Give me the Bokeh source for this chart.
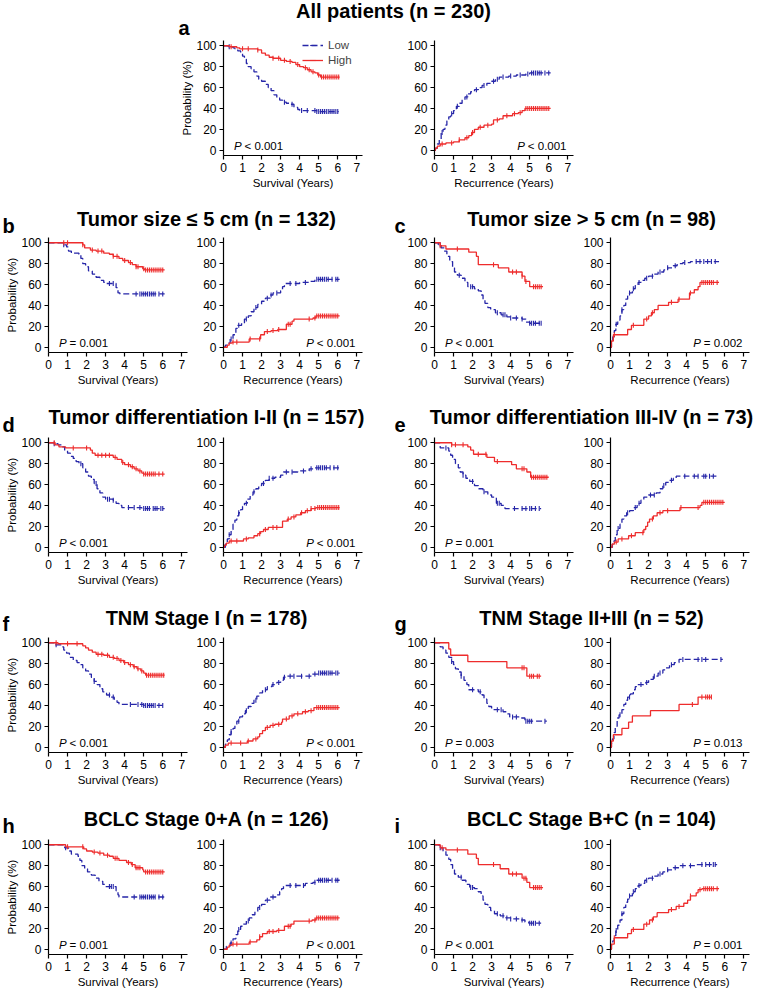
import numpy as np
from bokeh.plotting import figure
from bokeh.models import Range1d, FixedTicker, Label, Legend, LegendItem, Spacer
from bokeh.layouts import row, column
from bokeh.embed import file_html
from bokeh.resources import INLINE

# ---------------- data (time in years, probability in %) ----------------
x_ticks = [0, 1, 2, 3, 4, 5, 6, 7]
y_ticks = [0, 20, 40, 60, 80, 100]
letters = ["a", "b", "c", "d", "e", "f", "g", "h", "i"]
titles = ["All patients (n = 230)", "Tumor size \u2264 5 cm (n = 132)", "Tumor size > 5 cm (n = 98)",
          "Tumor differentiation I-II (n = 157)", "Tumor differentiation III-IV (n = 73)",
          "TNM Stage I (n = 178)", "TNM Stage II+III (n = 52)",
          "BCLC Stage 0+A (n = 126)", "BCLC Stage B+C (n = 104)"]
p_surv = ["< 0.001", "= 0.001", "< 0.001", "< 0.001", "= 0.001", "< 0.001", "= 0.003", "= 0.001", "< 0.001"]
p_rec = ["< 0.001", "< 0.001", "= 0.002", "< 0.001", None, "< 0.001", "= 0.013", "< 0.001", "= 0.001"]

# a
a_surv_low = [(0,100),(0.25,99),(0.5,98),(0.6,97),(0.75,95),(0.9,93),(1.0,90),(1.1,87),(1.2,83),(1.3,80),(1.45,78),(1.6,75),(1.75,71),(1.85,68),(2.0,66),(2.2,63),(2.35,60),(2.5,57),(2.65,53),(2.8,50),(2.95,48),(3.1,46),(3.3,45),(3.5,44),(3.7,41),(3.9,39),(4.0,38),(4.9,37),(6.05,37)]
a_surv_low_c = [0.3,3.2,3.6,4.1,4.4,4.8,4.9,5.0,5.1,5.2,5.3,5.4,5.5,5.6,5.7,5.8,5.9,6.0]
a_surv_high = [(0,100),(0.3,99),(0.7,98),(0.85,97),(1.8,96),(2.0,93),(2.2,91),(2.4,89),(2.6,88),(3.0,86),(3.3,85),(3.6,84),(3.8,82),(4.0,80),(4.2,79),(4.4,77),(4.6,75),(4.8,74),(4.95,72),(5.1,70),(6.1,70)]
a_surv_high_c = [0.4,1.0,1.3,1.8,2.6,2.9,3.2,3.5,3.9,4.3,4.5,4.7,5.0,5.15,5.25,5.35,5.45,5.55,5.65,5.75,5.85,5.95,6.05]
a_rec_low = [(0,0),(0.05,2),(0.15,6),(0.25,10),(0.35,17),(0.45,20),(0.55,24),(0.65,28),(0.75,32),(0.85,35),(1.0,38),(1.15,42),(1.3,45),(1.45,48),(1.6,51),(1.75,54),(1.9,56),(2.1,58),(2.3,60),(2.5,62),(2.75,64),(3.0,66),(3.2,68),(3.4,70),(3.9,71),(4.3,72),(4.8,73),(5.0,74),(6.1,74)]
a_rec_low_c = [0.4,0.9,1.2,1.7,2.2,2.6,3.1,3.3,3.6,4.0,4.5,4.9,5.1,5.2,5.3,5.4,5.5,5.6,5.8,6.0]
a_rec_high = [(0,0),(0.05,2),(0.15,4),(0.3,6),(0.6,7),(1.0,8),(1.3,10),(1.6,12),(1.8,14),(1.95,17),(2.1,20),(2.3,22),(2.6,24),(3.0,25),(3.1,29),(3.4,30),(3.6,33),(4.1,35),(4.4,36),(4.6,38),(4.75,40),(6.1,40)]
a_rec_high_c = [0.4,0.9,1.3,1.7,2.0,2.4,2.8,3.3,3.8,4.2,4.5,4.8,4.9,5.0,5.1,5.2,5.3,5.4,5.5,5.6,5.7,5.8,5.9,6.0]
# b
b_surv_low = [(0,100),(0.75,98),(0.95,96),(1.05,92),(1.2,90),(1.6,89),(1.7,85),(1.8,80),(1.95,77),(2.1,73),(2.3,70),(2.5,67),(2.7,64),(2.9,62),(3.05,61),(3.55,57),(3.65,52),(3.75,51),(6.1,51)]
b_surv_low_c = [0.8,3.2,3.4,4.6,4.8,4.9,5.0,5.1,5.2,5.3,5.4,5.5,5.6,5.8,6.0]
b_surv_high = [(0,100),(1.8,98),(1.9,95),(2.2,93),(2.5,92),(2.9,90),(3.2,89),(3.4,87),(3.7,85),(3.9,83),(4.2,81),(4.4,79),(4.6,77),(4.95,75),(5.05,74),(6.1,74)]
b_surv_high_c = [0.8,1.0,1.8,2.3,2.6,2.8,3.4,3.6,4.0,4.3,4.6,4.7,5.0,5.1,5.2,5.3,5.4,5.5,5.6,5.7,5.8,5.9,6.0]
b_rec_low = [(0,0),(0.1,2),(0.2,4),(0.35,8),(0.5,12),(0.65,18),(0.75,21),(0.95,23),(1.1,27),(1.3,30),(1.45,34),(1.6,38),(1.8,41),(2.0,44),(2.2,47),(2.45,50),(2.6,52),(3.0,54),(3.1,58),(3.2,61),(4.0,62),(4.5,63),(4.8,65),(6.1,65)]
b_rec_low_c = [0.4,0.8,1.2,1.7,2.3,2.5,2.8,3.5,3.8,4.3,4.9,5.0,5.1,5.2,5.3,5.4,5.5,5.7,5.9,6.0]
b_rec_high = [(0,0),(0.2,2),(0.3,4),(0.45,5),(1.35,8),(1.95,12),(2.15,15),(2.5,16),(2.85,17),(3.3,22),(3.6,25),(3.7,27),(4.7,28),(4.85,30),(6.1,30)]
b_rec_high_c = [0.5,0.7,1.4,1.9,2.3,2.6,2.9,3.4,3.5,4.5,4.8,4.9,5.0,5.1,5.2,5.3,5.4,5.5,5.6,5.7,5.8,5.9,6.0]
# c
c_surv_low = [(0,100),(0.2,98),(0.35,95),(0.5,92),(0.65,87),(0.8,82),(0.95,76),(1.05,72),(1.2,69),(1.4,66),(1.6,62),(1.75,58),(2.1,56),(2.3,54),(2.45,50),(2.55,46),(2.65,42),(2.8,38),(2.95,36),(3.2,33),(3.5,31),(3.8,29),(4.0,28),(4.6,27),(4.8,24),(5.0,23),(5.7,23)]
c_surv_low_c = [0.3,1.3,1.9,2.0,3.3,3.6,3.7,4.0,4.3,4.6,5.0,5.1,5.2,5.3,5.5,5.6]
c_surv_high = [(0,100),(0.3,97),(0.6,94),(1.8,91),(2.2,87),(2.3,79),(3.35,76),(3.9,72),(4.6,68),(4.75,63),(5.0,58),(5.7,58)]
c_surv_high_c = [0.3,1.2,3.1,4.1,4.3,4.6,4.8,5.2,5.3,5.4,5.5,5.6]
c_rec_low = [(0,0),(0.05,5),(0.12,10),(0.2,16),(0.28,22),(0.38,26),(0.5,30),(0.6,36),(0.7,40),(0.8,46),(0.9,49),(1.0,52),(1.15,56),(1.3,59),(1.45,62),(1.6,64),(1.8,66),(2.0,68),(2.3,70),(2.5,72),(2.8,74),(3.0,76),(3.3,78),(3.5,80),(3.8,81),(4.2,82),(5.7,82)]
c_rec_low_c = [0.3,0.6,1.0,1.2,1.5,1.9,2.2,2.6,3.0,3.4,3.9,4.5,4.7,4.9,5.1,5.3,5.5]
c_rec_high = [(0,0),(0.05,6),(0.15,12),(0.9,17),(1.1,21),(1.75,27),(2.0,30),(2.15,33),(2.3,36),(2.5,40),(3.05,43),(3.55,46),(4.15,52),(4.4,55),(4.6,58),(4.7,62),(5.7,62)]
c_rec_high_c = [0.2,1.2,1.9,2.2,3.2,3.6,4.2,4.8,4.9,5.0,5.1,5.2,5.3,5.4,5.6]
# d
d_surv_low = [(0,100),(0.3,99),(0.5,98),(0.7,96),(0.85,93),(1.0,90),(1.15,87),(1.3,85),(1.45,82),(1.6,80),(1.8,76),(1.95,72),(2.1,68),(2.25,65),(2.4,61),(2.55,56),(2.7,52),(2.85,48),(3.0,46),(3.4,45),(3.55,42),(3.7,40),(3.85,38),(4.9,37),(6.1,37)]
d_surv_low_c = [0.3,1.7,2.5,3.1,3.2,3.4,4.2,4.5,4.8,5.0,5.1,5.2,5.3,5.5,5.6,5.7,5.9,6.0]
d_surv_high = [(0,100),(0.35,98),(0.55,96),(0.9,95),(2.2,93),(2.3,90),(2.45,88),(3.4,86),(3.6,84),(3.85,81),(4.0,79),(4.3,77),(4.5,75),(4.7,73),(4.9,71),(5.0,70),(6.1,70)]
d_surv_high_c = [0.3,1.3,2.0,2.6,2.8,3.0,3.2,3.5,3.9,4.2,4.4,4.6,4.8,5.0,5.1,5.2,5.3,5.4,5.5,5.6,5.8,6.0]
d_rec_low = [(0,0),(0.1,3),(0.2,8),(0.3,12),(0.4,17),(0.5,22),(0.6,26),(0.7,30),(0.8,33),(0.9,36),(1.0,39),(1.1,42),(1.25,46),(1.4,50),(1.55,53),(1.7,56),(1.85,59),(2.0,61),(2.2,64),(2.4,66),(2.7,67),(3.0,69),(3.15,72),(3.9,73),(4.5,75),(4.8,76),(6.1,76)]
d_rec_low_c = [0.3,0.8,1.2,1.6,2.1,2.4,2.6,3.3,3.6,4.2,4.6,4.9,5.0,5.1,5.2,5.3,5.4,5.6,5.8,6.0]
d_rec_high = [(0,0),(0.05,2),(0.15,4),(0.3,6),(1.05,8),(1.3,9),(1.6,11),(1.8,13),(1.95,15),(2.1,17),(2.35,19),(3.1,25),(3.35,27),(3.55,29),(3.8,31),(4.05,33),(4.3,35),(4.6,37),(4.85,38),(6.1,38)]
d_rec_high_c = [0.4,0.7,1.2,1.9,2.2,2.6,2.8,3.4,3.7,4.1,4.4,4.6,4.8,4.95,5.05,5.15,5.25,5.35,5.45,5.55,5.65,5.75,5.85,5.95,6.05]
# e
e_surv_low = [(0,100),(0.3,95),(0.75,92),(0.85,88),(0.95,84),(1.1,80),(1.25,76),(1.35,72),(1.5,69),(1.65,66),(1.85,63),(2.1,59),(2.3,56),(2.55,53),(2.8,50),(3.0,48),(3.25,42),(3.5,40),(3.7,37),(5.6,37)]
e_surv_low_c = [0.6,1.5,2.0,2.6,3.3,3.4,4.2,4.6,4.8,5.0,5.1,5.3,5.5]
e_surv_high = [(0,100),(0.9,98),(1.75,96),(1.9,93),(2.05,89),(2.75,86),(3.15,82),(4.05,79),(4.3,75),(4.85,72),(5.05,67),(6.0,67)]
e_surv_high_c = [0.9,1.1,1.5,2.3,2.7,3.3,4.6,4.7,5.1,5.2,5.3,5.4,5.5,5.6,5.7,5.8,5.9]
e_rec_low = [(0,0),(0.1,3),(0.18,6),(0.25,12),(0.35,18),(0.5,22),(0.6,27),(0.7,30),(0.85,33),(1.0,35),(1.2,38),(1.4,42),(1.6,45),(1.75,48),(2.0,50),(2.4,52),(2.6,56),(2.75,59),(2.9,62),(3.1,64),(3.3,66),(3.45,68),(5.6,68)]
e_rec_low_c = [0.4,0.9,1.3,1.5,2.1,2.3,2.8,3.2,3.9,4.4,4.6,4.9,5.0,5.2,5.4]
e_rec_high = [(0,0),(0.08,3),(0.2,5),(0.4,8),(0.95,11),(1.3,14),(1.75,17),(1.85,20),(1.95,24),(2.05,27),(2.25,30),(2.45,33),(2.75,35),(3.65,38),(4.7,40),(4.8,43),(6.0,43)]
e_rec_high_c = [0.3,0.6,1.1,1.7,2.2,2.6,3.0,3.7,4.6,4.9,5.0,5.1,5.2,5.3,5.4,5.5,5.6,5.7,5.8,5.9]
# f
f_surv_low = [(0,100),(0.35,98),(0.65,96),(0.8,93),(0.95,90),(1.1,86),(1.3,83),(1.5,81),(1.65,79),(1.8,76),(1.95,73),(2.1,70),(2.25,67),(2.4,63),(2.55,60),(2.7,56),(2.85,53),(3.05,50),(3.25,48),(3.45,46),(3.6,43),(3.7,41),(5.0,40),(6.1,40)]
f_surv_low_c = [0.4,2.4,3.2,3.4,4.3,4.7,4.9,5.0,5.1,5.2,5.3,5.4,5.5,5.6,5.8,6.0]
f_surv_high = [(0,100),(0.5,99),(1.8,97),(1.95,95),(2.1,93),(2.3,91),(2.5,89),(2.9,88),(3.2,86),(3.45,85),(3.7,83),(3.95,81),(4.2,79),(4.45,77),(4.65,75),(4.85,73),(5.0,71),(5.1,69),(6.1,69)]
f_surv_high_c = [0.4,1.0,1.5,2.6,2.8,3.1,3.4,3.6,3.8,4.0,4.3,4.5,4.7,4.9,5.15,5.25,5.35,5.45,5.55,5.65,5.75,5.85,5.95,6.05]
f_rec_low = [(0,0),(0.1,3),(0.2,7),(0.3,12),(0.4,15),(0.5,18),(0.6,21),(0.7,25),(0.85,29),(1.0,32),(1.15,35),(1.3,39),(1.45,42),(1.6,45),(1.75,49),(1.9,52),(2.05,55),(2.3,58),(2.55,60),(2.8,62),(3.0,64),(3.15,67),(3.3,68),(4.65,70),(4.95,71),(6.1,71)]
f_rec_low_c = [0.4,0.8,1.2,1.7,2.2,2.6,2.9,3.2,3.5,3.7,4.1,4.5,4.8,5.0,5.1,5.2,5.3,5.4,5.5,5.6,5.7,5.9,6.0]
f_rec_high = [(0,0),(0.1,2),(0.25,4),(1.25,6),(1.55,8),(1.8,10),(1.9,13),(2.05,16),(2.2,19),(2.45,21),(2.7,22),(3.05,24),(3.1,27),(3.45,30),(3.7,32),(4.15,34),(4.45,35),(4.75,38),(6.1,38)]
f_rec_high_c = [0.4,0.9,1.3,1.7,2.3,2.6,2.9,3.3,3.6,3.9,4.3,4.6,4.9,5.0,5.1,5.2,5.3,5.4,5.5,5.6,5.7,5.8,5.9,6.0]
# g
g_surv_low = [(0,100),(0.3,96),(0.45,93),(0.6,90),(0.75,86),(0.9,82),(1.0,79),(1.1,75),(1.25,72),(1.4,68),(1.55,64),(1.7,60),(1.8,55),(2.3,53),(2.5,50),(2.6,46),(2.75,42),(2.85,39),(3.0,36),(3.6,34),(3.75,32),(3.95,29),(4.5,28),(4.75,25),(5.9,25)]
g_surv_low_c = [0.9,1.4,2.0,2.4,3.3,3.5,4.1,4.3,4.8,4.9,5.0,5.1,5.8]
g_surv_high = [(0,100),(0.75,94),(0.85,88),(1.75,82),(3.8,76),(4.85,68),(5.6,68)]
g_surv_high_c = [4.6,4.7,5.0,5.1,5.2,5.4,5.5]
g_rec_low = [(0,0),(0.05,4),(0.1,8),(0.18,14),(0.25,20),(0.35,28),(0.45,31),(0.6,36),(0.7,41),(0.8,45),(0.9,48),(1.05,51),(1.2,55),(1.3,58),(1.4,60),(1.85,62),(2.0,65),(2.25,68),(2.5,71),(2.75,74),(2.9,76),(3.1,79),(3.35,81),(3.6,84),(5.9,84)]
g_rec_low_c = [0.5,1.0,1.6,1.9,2.3,2.6,3.2,3.8,4.6,4.8,5.0,5.8]
g_rec_high = [(0,0),(0.05,6),(0.15,12),(0.6,18),(0.95,24),(1.15,30),(2.1,35),(3.6,41),(4.6,48),(5.3,48)]
g_rec_high_c = [4.3,4.8,5.0,5.1,5.2,5.3]
# h
h_surv_low = [(0,100),(0.85,97),(1.05,94),(1.2,91),(1.55,89),(1.65,85),(1.75,80),(1.9,77),(2.05,74),(2.25,71),(2.45,68),(2.65,65),(2.85,62),(3.0,60),(3.55,56),(3.65,52),(3.7,50),(6.1,50)]
h_surv_low_c = [0.9,3.2,3.3,3.4,4.5,4.8,4.9,5.0,5.1,5.2,5.3,5.4,5.5,5.6,5.8,6.0]
h_surv_high = [(0,100),(0.9,98),(1.85,96),(2.0,94),(2.3,93),(2.6,92),(2.9,90),(3.2,89),(3.4,87),(3.7,85),(4.1,83),(4.35,81),(4.55,78),(4.95,76),(5.0,74),(6.1,74)]
h_surv_high_c = [1.0,1.8,2.4,2.7,3.1,3.5,3.6,4.2,4.4,4.6,4.7,4.8,5.1,5.2,5.3,5.4,5.5,5.6,5.7,5.8,5.9,6.0]
h_rec_low = [(0,0),(0.15,3),(0.35,6),(0.5,10),(0.65,14),(0.75,19),(0.9,22),(1.05,24),(1.2,27),(1.35,30),(1.5,33),(1.65,36),(1.8,40),(2.0,43),(2.2,47),(2.45,50),(2.8,52),(2.95,55),(3.05,58),(3.15,61),(4.3,63),(4.7,64),(4.9,66),(6.1,66)]
h_rec_low_c = [0.4,0.8,1.3,1.9,2.3,2.6,3.5,3.8,4.2,4.8,5.0,5.1,5.2,5.3,5.4,5.5,5.7,5.9,6.0]
h_rec_high = [(0,0),(0.2,2),(0.3,4),(0.45,5),(1.35,7),(1.75,9),(1.9,12),(2.05,15),(2.3,17),(2.8,18),(3.2,22),(3.55,24),(3.7,27),(4.65,28),(4.85,30),(6.1,30)]
h_rec_high_c = [0.5,0.7,1.4,1.9,2.4,2.6,2.9,3.4,3.5,4.5,4.8,4.9,5.0,5.1,5.2,5.3,5.4,5.5,5.6,5.7,5.8,5.9,6.0]
# i
i_surv_low = [(0,100),(0.25,97),(0.45,94),(0.6,90),(0.75,86),(0.85,81),(0.95,76),(1.05,72),(1.25,69),(1.45,66),(1.65,62),(1.85,59),(2.1,58),(2.3,55),(2.45,51),(2.55,47),(2.65,43),(2.8,40),(2.95,37),(3.15,34),(3.45,32),(3.75,30),(4.0,29),(4.5,28),(4.75,26),(4.95,25),(5.6,25)]
i_surv_low_c = [0.3,1.4,1.9,2.0,3.3,3.6,3.8,4.0,4.3,4.6,5.0,5.1,5.2,5.3,5.5]
i_surv_high = [(0,100),(0.3,97),(0.6,95),(1.75,91),(2.2,87),(2.3,81),(3.45,77),(3.9,72),(4.6,68),(4.85,64),(5.0,59),(5.7,59)]
i_surv_high_c = [0.4,1.2,3.1,4.1,4.3,4.7,4.8,5.2,5.3,5.4,5.5,5.6]
i_rec_low = [(0,0),(0.05,4),(0.12,8),(0.2,13),(0.28,18),(0.38,23),(0.5,28),(0.6,34),(0.7,40),(0.8,45),(0.9,48),(1.0,51),(1.15,55),(1.3,58),(1.45,61),(1.6,63),(1.8,66),(2.0,68),(2.25,70),(2.5,72),(2.75,74),(3.0,76),(3.3,78),(3.6,80),(4.5,81),(5.6,81)]
i_rec_low_c = [0.3,0.6,1.0,1.2,1.5,1.9,2.2,2.6,3.0,3.4,3.8,4.2,4.8,5.0,5.2,5.4,5.5]
i_rec_high = [(0,0),(0.05,5),(0.2,11),(0.9,15),(1.1,19),(1.75,24),(2.05,28),(2.25,31),(2.45,35),(3.05,38),(3.45,41),(3.85,44),(4.05,47),(4.2,51),(4.5,54),(4.6,57),(4.8,58),(5.7,58)]
i_rec_high_c = [0.2,1.2,1.9,2.2,3.2,3.6,4.2,4.7,4.9,5.0,5.1,5.2,5.3,5.4,5.6]

# ---------------- styling ----------------
BLUE = "#2626A8"
RED = "#EE2C2C"
FONT = "Liberation Sans"
FW, FH = 139, 115


def step_value(curve, t):
    ts = np.array([c[0] for c in curve])
    vs = np.array([c[1] for c in curve])
    i = np.searchsorted(ts, t, side="right") - 1
    return vs[max(i, 0)]


def km_fig(low, low_c, high, high_c, xlabel, ylabel, pval, p_right,
           lb, rb, bb=40, legend=False):
    p = figure(frame_width=FW, frame_height=FH, x_range=Range1d(0, 7.3), y_range=Range1d(-5, 105),
               output_backend="svg", toolbar_location=None, title=None,
               min_border_left=lb, min_border_right=rb, min_border_top=2, min_border_bottom=bb)
    p.outline_line_color = None
    p.grid.visible = False
    p.background_fill_color = "white"
    p.border_fill_color = "white"
    p.xaxis.ticker = FixedTicker(ticks=x_ticks)
    p.yaxis.ticker = FixedTicker(ticks=y_ticks)
    for ax in (p.xaxis[0], p.yaxis[0]):
        ax.axis_line_color = "black"
        ax.axis_line_width = 1.2
        ax.major_tick_line_color = "black"
        ax.major_tick_line_width = 1.2
        ax.major_tick_out = 4
        ax.major_tick_in = 0
        ax.minor_tick_out = 0
        ax.minor_tick_in = 0
        ax.major_label_text_font = FONT
        ax.major_label_text_font_size = "12px"
        ax.major_label_text_color = "black"
        ax.axis_label_text_font = FONT
        ax.axis_label_text_font_size = "11.5px"
        ax.axis_label_text_font_style = "normal"
        ax.axis_label_text_color = "black"
    p.xaxis.axis_label = xlabel
    p.xaxis.major_label_standoff = 3
    p.xaxis.axis_label_standoff = 2
    p.yaxis.major_label_standoff = 3
    p.yaxis.axis_label_standoff = 0
    if ylabel:
        p.yaxis.axis_label = ylabel

    rends = []
    for curve, cens, color, dash in ((low, low_c, BLUE, "6 3"), (high, high_c, RED, "solid")):
        xs = [c[0] for c in curve]
        ys = [c[1] for c in curve]
        ln = p.step(xs, ys, mode="after", line_color=color, line_width=1.3, line_dash=dash)
        cy = [step_value(curve, t) for t in cens]
        mk = p.scatter(cens, cy, marker="dash", angle=np.pi / 2, size=5,
                       line_color=color, line_width=1.1)
        rends.append((ln, mk))

    if pval is not None:
        xp = 4.35 if p_right else 0.55
        p.add_layout(Label(x=xp, y=4.5, text="P", text_font=FONT, text_font_size="11.5px",
                           text_font_style="italic", text_color="black", text_baseline="alphabetic"))
        p.add_layout(Label(x=xp, y=4.5, x_offset=10.5, text=pval, text_font=FONT, text_font_size="11.5px",
                           text_color="black", text_baseline="alphabetic"))

    if legend:
        lg = Legend(items=[LegendItem(label="Low", renderers=list(rends[0])),
                           LegendItem(label="High", renderers=list(rends[1]))],
                    location=(79, 88), orientation="vertical",
                    label_text_font=FONT, label_text_font_size="11.5px",
                    glyph_width=21, glyph_height=14, label_height=14, spacing=1,
                    padding=0, margin=0, label_standoff=5,
                    border_line_color=None, background_fill_alpha=0)
        p.add_layout(lg)
    return p


def header(height, items):
    h = figure(width=757, height=height, x_range=Range1d(0, 757), y_range=Range1d(height, 0),
               output_backend="svg", toolbar_location=None, title=None,
               min_border_left=0, min_border_right=0, min_border_top=0, min_border_bottom=0,
               x_axis_location=None, y_axis_location=None)
    h.outline_line_color = None
    h.grid.visible = False
    h.background_fill_color = "white"
    h.border_fill_color = "white"
    for (x, y, text, align) in items:
        h.add_layout(Label(x=x, y=y, text=text, text_font=FONT, text_font_size="20px",
                           text_font_style="bold", text_align=align, text_baseline="alphabetic",
                           text_color="black"))
    return h


panel = {
    "a": (a_surv_low, a_surv_low_c, a_surv_high, a_surv_high_c, a_rec_low, a_rec_low_c, a_rec_high, a_rec_high_c),
    "b": (b_surv_low, b_surv_low_c, b_surv_high, b_surv_high_c, b_rec_low, b_rec_low_c, b_rec_high, b_rec_high_c),
    "c": (c_surv_low, c_surv_low_c, c_surv_high, c_surv_high_c, c_rec_low, c_rec_low_c, c_rec_high, c_rec_high_c),
    "d": (d_surv_low, d_surv_low_c, d_surv_high, d_surv_high_c, d_rec_low, d_rec_low_c, d_rec_high, d_rec_high_c),
    "e": (e_surv_low, e_surv_low_c, e_surv_high, e_surv_high_c, e_rec_low, e_rec_low_c, e_rec_high, e_rec_high_c),
    "f": (f_surv_low, f_surv_low_c, f_surv_high, f_surv_high_c, f_rec_low, f_rec_low_c, f_rec_high, f_rec_high_c),
    "g": (g_surv_low, g_surv_low_c, g_surv_high, g_surv_high_c, g_rec_low, g_rec_low_c, g_rec_high, g_rec_high_c),
    "h": (h_surv_low, h_surv_low_c, h_surv_high, h_surv_high_c, h_rec_low, h_rec_low_c, h_rec_high, h_rec_high_c),
    "i": (i_surv_low, i_surv_low_c, i_surv_high, i_surv_high_c, i_rec_low, i_rec_low_c, i_rec_high, i_rec_high_c),
}


def pair(k, lb1, rb1, lb2, rb2, ylab, bb=40, legend=False):
    idx = letters.index(k)
    d = panel[k]
    f1 = km_fig(d[0], d[1], d[2], d[3], "Survival (Years)", "Probability (%)" if ylab else None,
                p_surv[idx], False, lb1, rb1, bb, legend)
    f2 = km_fig(d[4], d[5], d[6], d[7], "Recurrence (Years)", None, p_rec[idx], True, lb2, rb2, bb)
    return [f1, f2]


SHIFT = 8  # rendered text sits this many px below the requested baseline
children = []
# row a
children.append(header(38, [(391, 18 - SHIFT, titles[0], "center"), (176, 35 - SHIFT, "a", "left")]))
children.append(row(Spacer(width=175, height=157), *pair("a", 46, 42, 30, 7, True, legend=True)))

row_specs = [("b", "c", 40, 31, 38, 40), ("d", "e", 43, 32, 40, 40), ("f", "g", 43, 33, 39, 40),
             ("h", "i", 45, 34, 41, 36)]
for (k1, k2, hh, tb, lbase, bb) in row_specs:
    i1, i2 = letters.index(k1), letters.index(k2)
    children.append(header(hh, [(204, tb - SHIFT, titles[i1], "center"), (0, lbase - SHIFT, k1, "left"),
                                (589, tb - SHIFT, titles[i2], "center"), (392, lbase - SHIFT, k2, "left")]))
    figs = pair(k1, 46, 6, 30, 42, True, bb) + pair(k2, 30, 7, 30, 10, False, bb)
    children.append(row(*figs))

layout = column(*children, styles={"margin": "0px 0px 0px 2px"})

open("out.html", "w").write(file_html(layout, INLINE))
